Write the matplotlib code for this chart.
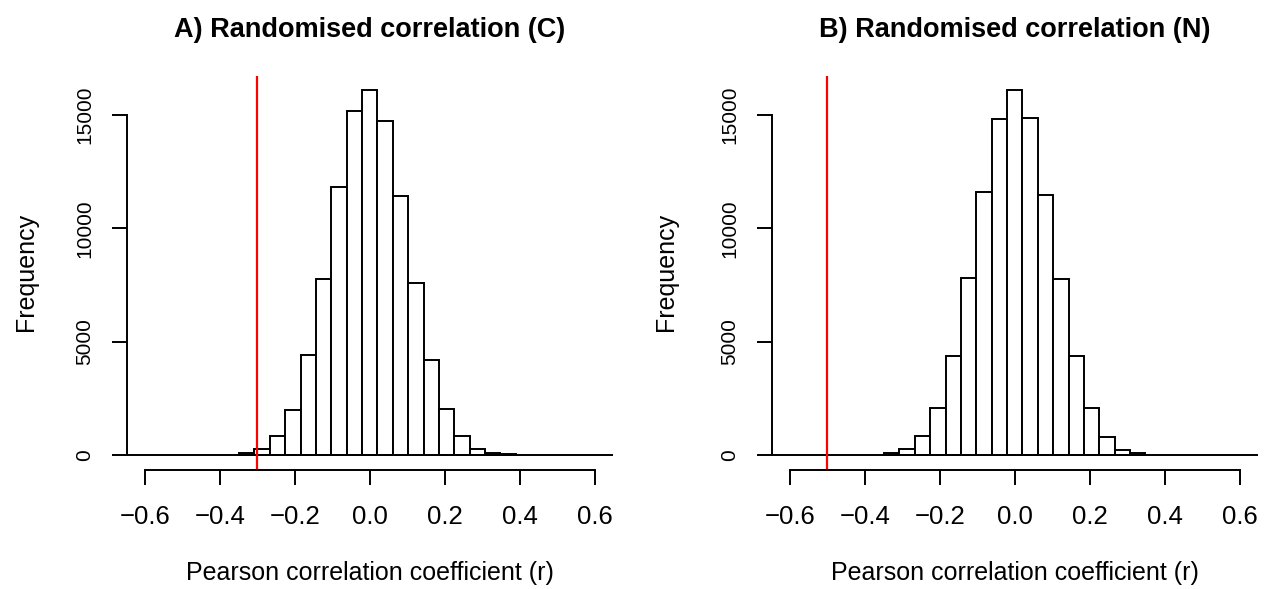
import numpy as np
import matplotlib
matplotlib.use("Agg")
import matplotlib.pyplot as plt

plt.rcParams['font.family'] = ['Liberation Sans', 'DejaVu Sans']

# --- Data (bin edges and counts) ---
edges_c = [-0.3485, -0.3075, -0.2665, -0.2255, -0.1845, -0.1435, -0.1025,
           -0.0615, -0.0205, 0.0205, 0.0615, 0.1025, 0.1435, 0.1845,
           0.2255, 0.2665, 0.3075, 0.3485, 0.3895]
counts_c = [80, 265, 830, 1970, 4430, 7765, 11820, 15160, 16090, 14720,
            11410, 7575, 4205, 2050, 860, 280, 110, 40]

edges_n = [-0.3485, -0.3075, -0.2665, -0.2255, -0.1845, -0.1435, -0.1025,
           -0.0615, -0.0205, 0.0205, 0.0615, 0.1025, 0.1435, 0.1845,
           0.2255, 0.2665, 0.3075, 0.3485]
counts_n = [75, 255, 820, 2080, 4370, 7795, 11600, 14825, 16090, 14850,
            11470, 7765, 4380, 2065, 780, 240, 75]

observed_c = -0.3
observed_n = -0.5

titles = ['A) Randomised correlation (C)', 'B) Randomised correlation (N)']
xticks = [-0.6, -0.4, -0.2, 0.0, 0.2, 0.4, 0.6]
yticks = [0, 5000, 10000, 15000]

W, H = 1267, 589
fig = plt.figure(figsize=(W / 100, H / 100), dpi=100)

panels = [
    (edges_c, counts_c, observed_c, titles[0], 126.7, 33.3),
    (edges_n, counts_n, observed_n, titles[1], 771.7, 673.3),
]

lw = 1.4

for edges, counts, obs, title, left_px, ylab_px in panels:
    ax = fig.add_axes([left_px / W, 1 - 469.6 / H, 486 / W, 393.9 / H])
    edges = np.array(edges)
    counts = np.array(counts)

    ax.bar(edges[:-1], counts, width=np.diff(edges), align='edge',
           facecolor='white', edgecolor='black', linewidth=lw)
    ax.axhline(0, color='black', linewidth=lw)
    ax.axvline(obs, color='red', linewidth=1.6)

    ymax = counts.max()
    ax.set_xlim(-0.648, 0.648)
    ax.set_ylim(-0.04 * ymax, 1.04 * ymax)

    for s in ['top', 'right']:
        ax.spines[s].set_visible(False)
    ax.spines['left'].set_bounds(0, 15000)
    ax.spines['bottom'].set_bounds(-0.6, 0.6)
    for s in ['left', 'bottom']:
        ax.spines[s].set_linewidth(lw)

    ax.set_xticks(xticks)
    ax.set_xticklabels(['\u22120.6', '\u22120.4', '\u22120.2', '0.0',
                        '0.2', '0.4', '0.6'])
    ax.set_yticks(yticks)
    ax.set_yticklabels([str(v) for v in yticks])
    ax.tick_params(axis='both', direction='out', length=10.8, width=lw)
    ax.tick_params(axis='x', labelsize=18.5, pad=15)
    ax.tick_params(axis='y', labelsize=15, pad=12.5)
    for lab in ax.get_yticklabels():
        lab.set_rotation(90)
        lab.set_va('center')

    cx = (left_px + 243) / W
    fig.text(cx, 1 - 37.3 / H, title, ha='center', va='baseline',
             fontsize=19.5, fontweight='bold')
    fig.text(cx, 1 - 580 / H, 'Pearson correlation coefficient (r)',
             ha='center', va='baseline', fontsize=18)
    fig.text(ylab_px / W, 1 - 272 / H, 'Frequency', rotation=90,
             rotation_mode='anchor', ha='center', va='baseline', fontsize=18)

fig.savefig('out.png', dpi=100)
plt.close(fig)
